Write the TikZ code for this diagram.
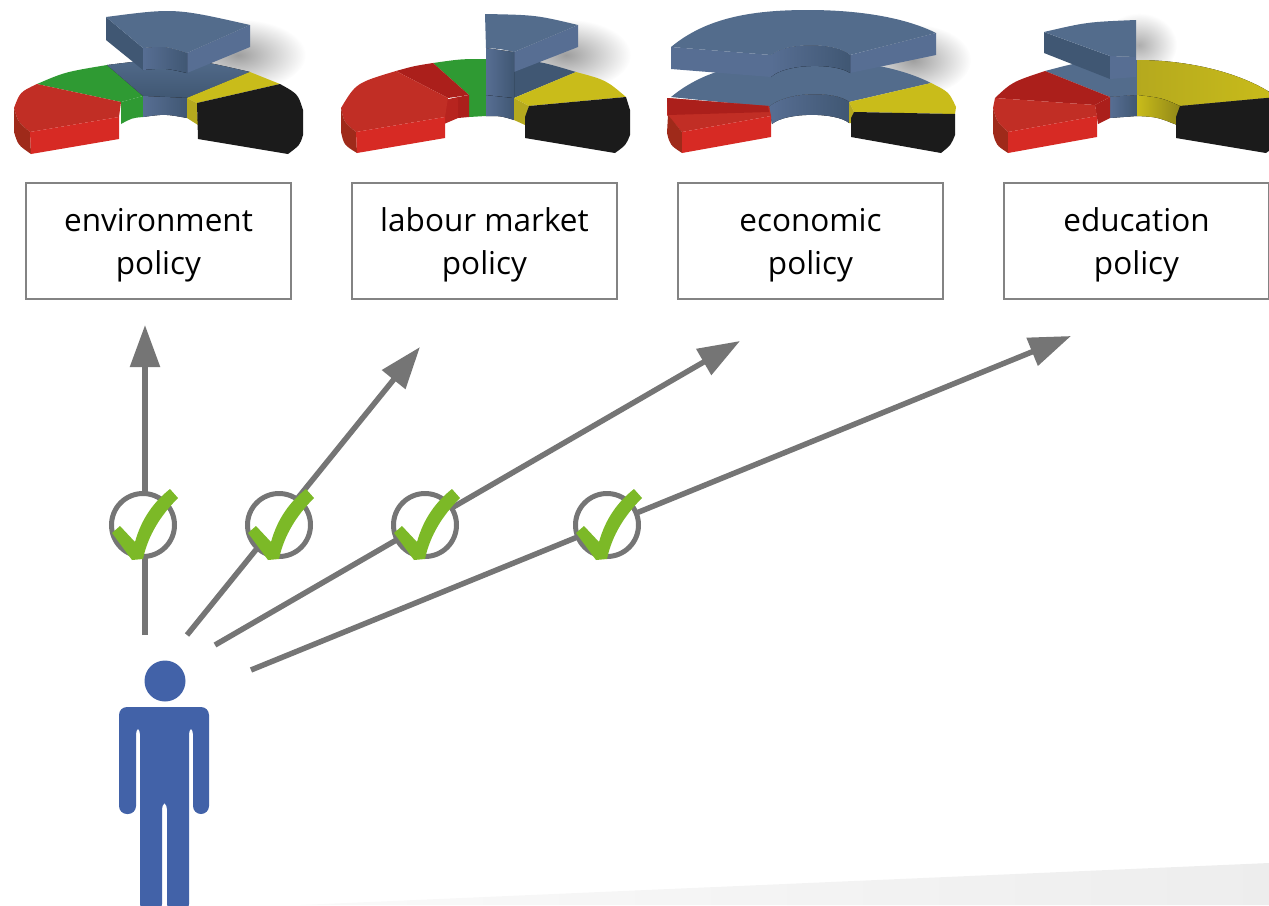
\documentclass[tikz,border=0pt]{standalone}
\usepackage{fontspec}
\setmainfont{Open Sans}
\usepackage{xcolor}
\usepackage{tikz}
\usetikzlibrary{arrows.meta}
\definecolor{redtop}{HTML}{C12E25}
\definecolor{reddark}{HTML}{AB1F1B}
\definecolor{redfront}{HTML}{D72A24}
\definecolor{redside}{HTML}{9F2A1A}
\definecolor{greentop}{HTML}{2F9A33}
\definecolor{bluetop}{HTML}{536C8C}
\definecolor{bluedark}{HTML}{405773}
\definecolor{blueface}{HTML}{576E93}
\definecolor{yellowtop}{HTML}{C9BC1A}
\definecolor{yellowin}{HTML}{B5A91E}
\definecolor{blackpart}{HTML}{1B1B1B}
\definecolor{personblue}{HTML}{4262A8}
\definecolor{arrowgray}{HTML}{757575}
\definecolor{tickgreen}{HTML}{7CB927}
\tikzset{ policy_box/.style = {rectangle, draw=arrowgray!90, line width=2.7pt, minimum width=265pt, minimum height=116pt, align=center, font=\fontsize{31.5}{43}\selectfont, text height=73pt, text depth=7pt} }
\tikzset{ choice/.style = {circle, draw=arrowgray, line width=5pt, fill=white, minimum size=63pt, inner sep=0pt} }
\tikzset{ vote/.style = {draw=arrowgray, line width=5.5pt, -{Triangle[length=42pt,width=29pt]}} }
\tikzset{ inner_blue/.style = {left color=blueface, right color=bluedark} }
\tikzset{ tickmark/.pic = {\fill[tickgreen] (-31,8) -- (-23,1) -- (-8,17) .. controls (-1,-8) and (12,-24) .. (27,-36) -- (35,-27) .. controls (18,-10) and (5,10) .. (0,34) -- (-11,35) -- cycle;} }
\begin{document}
\begin{tikzpicture}[x=1pt, y=-1pt]
        \useasboundingbox (0,0) rectangle (1269,905);
        % floor
        \shade[left color=black!2, right color=black!7] (300,905) -- (1269,863) -- (1269,905) -- cycle;
        % environment
        \begin{scope}
                \shade[inner color=black!38, outer color=white] (238,55) ellipse (68pt and 36pt);
                \fill[greentop] (37,84) .. controls (65,72) .. (107,65) -- (143,96) -- (121,102) -- cycle;
                \fill[greentop] (121,102) -- (143,96) -- (143,117) .. controls (132,118) .. (121,124) -- cycle;
                \fill[top color=bluetop, bottom color=bluedark] (107,65) .. controls (180,56) .. (250,72) -- (187,98) -- (143,96) -- cycle;
                \fill[inner_blue] (143,96) -- (187,98) -- (187,118) .. controls (165,114) .. (143,117) -- cycle;
                \fill[yellowtop] (250,72) -- (280,84) -- (197,103) -- (187,98) -- cycle;
                \fill[yellowin] (187,98) -- (197,103) -- (198,125) -- (187,118) -- cycle;
                \fill[blackpart] (280,84) .. controls (298,94) .. (303,110) -- (303,135) .. controls (300,145) .. (288,154) -- (198,139) -- (197,103) -- cycle;
                \fill[redtop] (37,84) .. controls (20,92) .. (14,108) .. controls (18,122) .. (30,132) -- (119,117) -- (121,102) -- cycle;
                \fill[redside] (14,108) .. controls (18,122) .. (30,132) -- (31,154) .. controls (18,145) .. (14,132) -- cycle;
                \fill[redfront] (30,132) -- (119,117) -- (119,139) -- (31,154) -- cycle;
                \fill[bluedark] (106,17) -- (143,48) -- (143,70) -- (106,40) -- cycle;
                \fill[blueface] (250,25) -- (187,53) -- (187,73) -- (250,47) -- cycle;
                \fill[inner_blue] (143,48) .. controls (165,46) .. (187,53) -- (187,73) .. controls (165,68) .. (143,70) -- cycle;
                \fill[bluetop] (106,17) .. controls (175,8) .. (250,25) -- (187,53) .. controls (165,46) .. (143,48) -- cycle;
        \end{scope}
        % labour market
        \begin{scope}[shift={(326,0)}]
                \shade[inner color=black!38, outer color=white] (240,55) ellipse (65pt and 36pt);
                \fill[greentop] (107,63) .. controls (135,59) .. (160,59) -- (160,95) -- (143,95) -- cycle;
                \fill[greentop] (143,95) -- (160,95) -- (160,116) -- (143,117) -- cycle;
                \fill[bluedark] (160,59) .. controls (210,60) .. (250,72) -- (188,98) -- (160,95) -- cycle;
                \fill[inner_blue] (160,95) -- (188,98) -- (188,120) .. controls (175,116) .. (160,116) -- cycle;
                \fill[yellowtop] (250,72) .. controls (280,80) .. (300,97) -- (203,106) -- (188,98) -- cycle;
                \fill[yellowin] (188,98) -- (203,106) -- (199,125) -- (188,120) -- cycle;
                \fill[blackpart] (300,97) -- (304,110) -- (304,135) .. controls (300,145) .. (289,153) -- (199,138) -- (199,117) -- (203,106) -- cycle;
                \fill[reddark] (70,71) .. controls (88,66) .. (107,63) -- (143,95) -- (122,98) -- cycle;
                \fill[reddark] (132,97) -- (143,95) -- (143,117) -- (132,118) -- cycle;
                \fill[redfront!85!black] (118,100) -- (132,97) -- (132,118) -- (118,124) -- cycle;
                \fill[redtop] (70,71) .. controls (30,83) .. (15,108) .. controls (18,122) .. (30,132) -- (119,117) -- (122,98) -- cycle;
                \fill[redside] (15,108) .. controls (18,122) .. (30,132) -- (31,153) .. controls (18,145) .. (15,132) -- cycle;
                \fill[redfront] (30,132) -- (119,117) -- (119,138) -- (31,153) -- cycle;
                \fill[blueface] (252,25) -- (188,52) -- (188,72) -- (252,47) -- cycle;
                \fill[inner_blue] (160,48) -- (188,52) -- (188,98) -- (160,95) -- cycle;
                \fill[bluetop] (159,14) .. controls (210,15) .. (252,25) -- (188,52) .. controls (175,49) .. (160,48) -- cycle;
        \end{scope}
        % economic
        \begin{scope}[shift={(651,0)}]
                \shade[inner color=black!38, outer color=white] (262,60) ellipse (58pt and 36pt);
                \fill[bluetop] (20,97) .. controls (55,68) and (100,60) .. (157,60) .. controls (210,60) and (250,68) .. (280,83) -- (198,102) .. controls (185,91) and (135,91) .. (118,107) -- cycle;
                \fill[inner_blue] (118,107) .. controls (135,91) and (185,91) .. (198,102) -- (198,123) .. controls (185,112) and (135,112) .. (121,124) -- cycle;
                \fill[yellowtop] (280,83) .. controls (298,92) .. (305,107) -- (304,114) -- (203,112) -- (198,102) -- cycle;
                \fill[yellowin] (198,102) -- (203,112) -- (200,123) -- (198,123) -- cycle;
                \fill[blackpart] (203,112) -- (304,114) -- (304,135) .. controls (300,145) .. (290,153) -- (200,137) -- (200,118) -- cycle;
                \fill[redtop] (16,98) -- (118,106) -- (120,116) -- (31,132) -- (16,115) -- cycle;
                \fill[reddark] (16,98) -- (117,106) -- (118,112) -- (17,115) -- cycle;
                \fill[redside] (17,115) -- (31,132) -- (31,153) .. controls (19,145) .. (16,133) -- cycle;
                \fill[redfront] (31,132) -- (120,116) -- (120,137) -- (31,153) -- cycle;
                \fill[blueface] (20,47) -- (120,55) -- (120,77) -- (20,69) -- cycle;
                \fill[blueface] (285,33) -- (199,55) -- (199,73) -- (285,55) -- cycle;
                \fill[inner_blue] (120,55) .. controls (135,42) and (185,42) .. (199,55) -- (199,73) .. controls (185,63) and (135,63) .. (120,77) -- cycle;
                \fill[bluetop] (20,47) .. controls (55,18) and (100,10) .. (157,10) .. controls (210,10) and (255,18) .. (285,33) -- (199,55) .. controls (185,42) and (135,42) .. (120,55) -- cycle;
        \end{scope}
        % education
        \begin{scope}[shift={(977,0)}]
                \shade[inner color=black!32, outer color=white] (162,45) ellipse (38pt and 32pt);
                \fill[bluetop] (68,71) .. controls (110,60) .. (160,60) -- (160,95) -- (133,97) -- cycle;
                \fill[inner_blue] (133,97) -- (160,95) -- (160,116) -- (133,118) -- cycle;
                \fill[left color=yellowin, middle color=yellowtop, right color=yellowtop] (160,60) .. controls (210,60) and (265,72) .. (300,97) -- (203,106) .. controls (185,98) .. (160,95) -- cycle;
                \fill[left color=yellowtop, right color=yellowin!80!black] (160,95) .. controls (185,98) .. (203,106) -- (200,125) .. controls (180,117) .. (160,116) -- cycle;
                \fill[blackpart] (300,97) -- (304,110) -- (304,135) .. controls (300,145) .. (289,153) -- (199,138) -- (199,117) -- (203,106) -- cycle;
                \fill[reddark] (68,71) -- (133,97) -- (118,105) -- (18,98) .. controls (35,82) .. (68,71) -- cycle;
                \fill[reddark] (118,105) -- (133,97) -- (133,118) -- (121,124) -- cycle;
                \fill[redtop] (18,98) -- (118,105) -- (120,116) -- (31,132) .. controls (20,122) .. (16,108) -- cycle;
                \fill[redside] (16,108) .. controls (20,122) .. (31,132) -- (31,153) .. controls (19,145) .. (16,133) -- cycle;
                \fill[redfront] (31,132) -- (120,116) -- (120,137) -- (31,153) -- cycle;
                \fill[bluedark] (67,32) -- (133,56) -- (133,79) -- (67,53) -- cycle;
                \fill[blueface] (133,56) -- (159,57) -- (159,77) -- (133,79) -- cycle;
                \fill[bluetop] (67,32) .. controls (110,22) .. (159,20) -- (159,57) -- (133,56) -- cycle;
        \end{scope}
        % labels
        \node [policy_box] (env) at (158.5,241) {environment\\policy};
        \node [policy_box] (lab) at (484.5,241) {labour market\\policy};
        \node [policy_box] (eco) at (810.5,241) {economic\\policy};
        \node [policy_box] (edu) at (1136.5,241) {education\\policy};
        % voter
        \coordinate (v1) at (145,635);
        \coordinate (v2) at (187,635);
        \coordinate (v3) at (215,645);
        \coordinate (v4) at (251,670);
        \coordinate (t1) at (145,325);
        \coordinate (t2) at (420,347);
        \coordinate (t3) at (740,341);
        \coordinate (t4) at (1071,336);
        \draw[vote] (v1) to (t1);
        \draw[vote] (v2) to (t2);
        \draw[vote] (v3) to (t3);
        \draw[vote] (v4) to (t4);
        \node [choice] (c1) at (143,525) {};
        \node [choice] (c2) at (279,525) {};
        \node [choice] (c3) at (425,525) {};
        \node [choice] (c4) at (607,525) {};
        \pic at (c1) {tickmark};
        \pic at (c2) {tickmark};
        \pic at (c3) {tickmark};
        \pic at (c4) {tickmark};
        \node [circle, fill=personblue, minimum size=41pt, inner sep=0pt] (head) at (165,681) {};
        \fill[personblue, rounded corners=8pt] (119,707) -- (209,707) -- (209,814) -- (193,814) -- (193,726) -- (189,726) -- (189,912) -- (167,912) -- (167,801) -- (162,801) -- (162,912) -- (140,912) -- (140,726) -- (136,726) -- (136,814) -- (119,814) -- cycle;
\end{tikzpicture}
\end{document}
